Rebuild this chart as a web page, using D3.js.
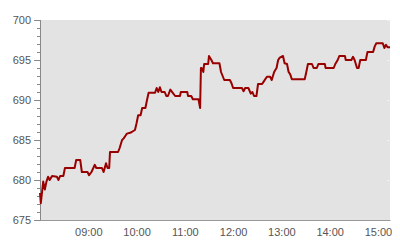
<!DOCTYPE html>
<html>
<head>
<meta charset="utf-8">
<script src="https://cdn.jsdelivr.net/npm/d3@7"></script>
<style>
  body { margin: 0; background: #fff; }
  text { font-family: "Liberation Sans", Arial, sans-serif; font-size: 11px; fill: #555; }
</style>
</head>
<body>
<svg id="vis" width="400" height="240"></svg>
<script>
// price readings, one per change
const times = ["08:00","08:01","08:04","08:06","08:08","08:10","08:12","08:15","08:21","08:23",
  "08:25","08:29","08:31","08:43","08:45","08:50","08:52","08:59","09:01","09:04",
  "09:08","09:10","09:17","09:19","09:21","09:22","09:24","09:26","09:27","09:37",
  "09:39","09:42","09:44","09:46","09:48","09:52","09:54","09:58","10:00","10:02",
  "10:05","10:07","10:11","10:13","10:15","10:23","10:25","10:27","10:29","10:31",
  "10:35","10:37","10:39","10:42","10:45","10:48","10:54","10:55","11:03","11:04",
  "11:08","11:10","11:17","11:19","11:20","11:21","11:23","11:24","11:29","11:30",
  "11:33","11:35","11:43","11:45","11:47","11:49","11:56","11:58","12:00","12:11",
  "12:13","12:15","12:19","12:22","12:24","12:26","12:29","12:31","12:36","12:38",
  "12:42","12:46","12:48","12:51","12:54","12:56","12:58","13:02","13:04","13:07",
  "13:09","13:11","13:13","13:29","13:31","13:33","13:38","13:40","13:44","13:46",
  "13:54","13:55","14:05","14:07","14:10","14:12","14:19","14:20","14:27","14:29",
  "14:31","14:34","14:36","14:38","14:45","14:47","14:54","14:56","14:58","15:06",
  "15:08","15:10","15:12","15:15"];
const values = [678.4,677.1,679.8,678.8,679.8,680.4,680.0,680.5,680.4,680.0,
  680.5,680.5,681.5,681.5,682.5,682.5,681.0,681.0,680.6,681.0,
  681.9,681.5,681.5,681.0,681.7,682.1,681.5,681.5,683.5,683.5,
  684.0,685.0,685.2,685.5,685.8,685.9,686.0,686.25,687.1,688.1,
  688.1,689.0,689.0,690.0,690.9,690.9,691.5,691.0,691.6,691.0,
  691.0,690.5,690.5,691.3,690.9,690.5,690.5,691.0,691.0,690.5,
  690.5,690.1,690.1,689.0,694.0,694.0,693.5,694.5,694.5,695.5,
  695.0,694.6,694.6,693.5,693.0,692.5,692.5,692.1,691.5,691.5,
  691.1,691.5,691.5,690.8,691.0,690.5,690.5,692.0,692.0,692.3,
  692.9,692.9,692.5,693.5,694.0,695.0,695.3,695.5,694.6,694.5,
  693.5,693.2,692.6,692.6,693.5,694.5,694.5,694.0,694.0,694.5,
  694.5,694.0,694.0,694.5,695.0,695.5,695.5,695.0,695.0,695.4,
  695.0,694.0,694.0,695.0,695.0,696.0,696.0,696.7,697.1,697.1,
  696.5,696.9,696.6,696.6];
const yTicks = [675, 680, 685, 690, 695, 700];
const xTicks = ["09:00","10:00","11:00","12:00","13:00","14:00","15:00"];
const xStart = "08:00", xEnd = "15:15";

const parse = d3.timeParse("%H:%M");
const data = times.map((t, i) => ({ t: parse(t), v: values[i] }));

const margin = { top: 20, right: 10, bottom: 20, left: 40 };
const width = 400 - margin.left - margin.right;
const height = 240 - margin.top - margin.bottom;

const svg = d3.select("svg#vis");
const g = svg.append("g").attr("transform", translate(margin.left, margin.top));

const x = d3.scaleTime().domain([parse(xStart), parse(xEnd)]).range([0, width]);
const y = d3.scaleLinear().domain([675, 700]).range([height, 0]);

// plot background
g.append("rect")
  .attr("width", width)
  .attr("height", height)
  .attr("fill", "#e3e3e3");

// faint grid ends at the right edge
g.selectAll("line.grid")
  .data(yTicks.slice(1))
  .enter()
  .append("line")
  .attr("class", "grid")
  .attr("x1", width - 3)
  .attr("x2", width + 1)
  .attr("y1", d => y(d) + 0.5)
  .attr("y2", d => y(d) + 0.5)
  .attr("stroke", "#f0f0f0");

// y axis: minor ticks every 1, labels every 5
const yMinor = d3.axisLeft(y).ticks(25).tickSize(3).tickFormat("");
const yAxis = d3.axisLeft(y).tickValues(yTicks).tickSize(6).tickPadding(3);

const gyMinor = g.append("g").call(yMinor);
const gy = g.append("g").call(yAxis);
[gyMinor, gy].forEach(a => {
  a.select(".domain").attr("stroke", "#888");
  a.selectAll(".tick line").attr("stroke", "#888");
});
gy.selectAll("text").style("font-size", "11px").attr("fill", "#555");

// x axis
const xAxis = d3.axisBottom(x)
  .tickValues(xTicks.map(parse))
  .tickFormat(d3.timeFormat("%H:%M"))
  .tickSize(0)
  .tickPadding(8);

const gx = g.append("g").attr("transform", translate(0, height)).call(xAxis);
gx.select(".domain").attr("stroke", "#999");
gx.selectAll("text").style("font-size", "11px").attr("fill", "#555");

// price line
const line = d3.line()
  .x(d => x(d.t))
  .y(d => y(d.v));

g.append("path")
  .datum(data)
  .attr("d", line)
  .attr("fill", "none")
  .attr("stroke", "#990000")
  .attr("stroke-width", 2)
  .attr("stroke-linejoin", "round");

function translate(x, y) {
  return "translate(" + String(x) + "," + String(y) + ")";
}
</script>
</body>
</html>
